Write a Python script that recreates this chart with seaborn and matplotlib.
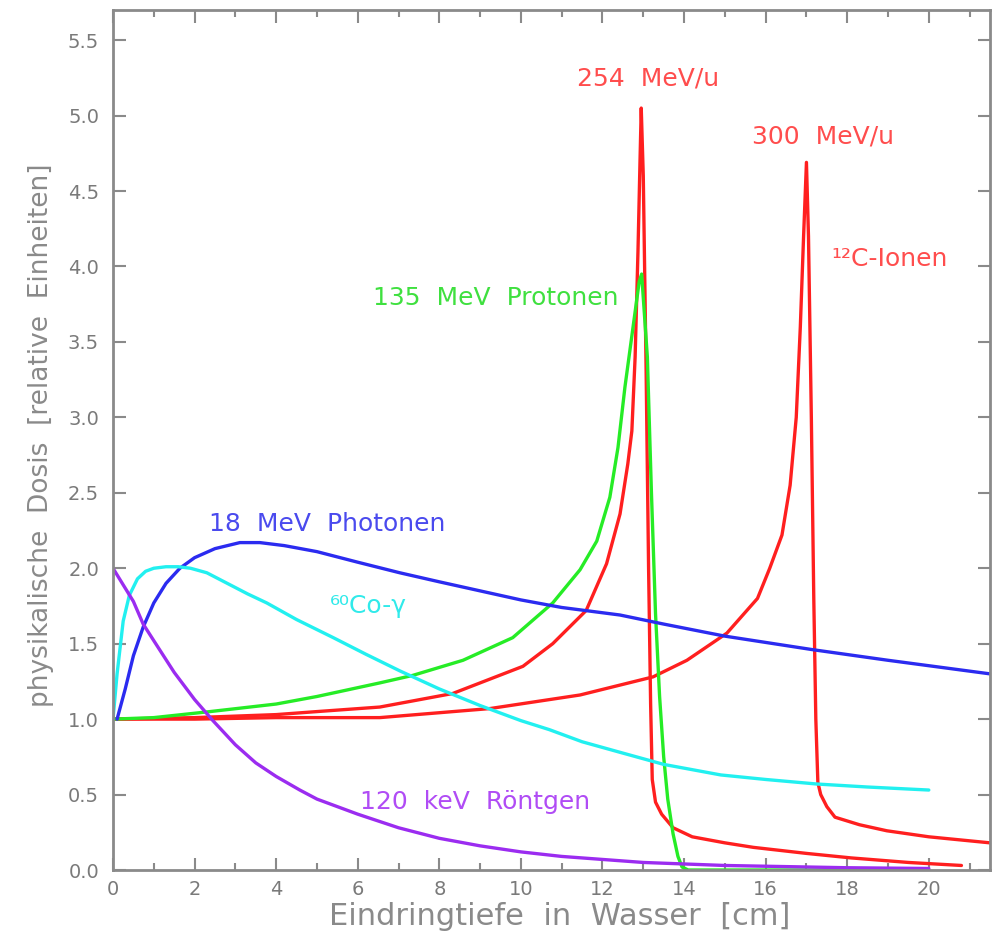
import numpy as np
import pandas as pd
import matplotlib
matplotlib.use("Agg")
import matplotlib.pyplot as plt
from matplotlib.ticker import MultipleLocator, FormatStrFormatter
import seaborn as sns

# ---------------- data ----------------
c254_x = [0, 2, 4, 5, 6.54, 8.33, 10.05, 10.78, 11.6, 12.1, 12.43, 12.62, 12.72, 12.8, 12.87, 12.92, 12.95,
          13.0, 13.07, 13.13, 13.18, 13.22, 13.3, 13.45, 13.73, 14.2, 15.0, 15.7, 17.0, 18.1, 19.5, 20.8]
c254_y = [1.0, 1.01, 1.03, 1.05, 1.08, 1.17, 1.35, 1.50, 1.72, 2.03, 2.36, 2.69, 2.91, 3.4, 4.1, 4.7, 5.05,
          4.6, 3.3, 2.0, 1.1, 0.6, 0.45, 0.37, 0.28, 0.22, 0.18, 0.15, 0.11, 0.08, 0.05, 0.03]

c300_x = [0, 2, 4, 6.54, 9.24, 11.45, 13.24, 14.07, 15.05, 15.8, 16.1, 16.4, 16.6, 16.75, 16.85, 16.93, 17.0,
          17.05, 17.12, 17.18, 17.23, 17.28, 17.35, 17.5, 17.7, 18.3, 18.97, 20.0, 21.5]
c300_y = [1.0, 1.0, 1.01, 1.01, 1.07, 1.16, 1.28, 1.39, 1.57, 1.8, 2.0, 2.22, 2.55, 3.0, 3.6, 4.2, 4.69,
          4.2, 3.0, 1.8, 1.0, 0.58, 0.5, 0.42, 0.35, 0.3, 0.26, 0.22, 0.18]

prot_x = [0, 1, 2.38, 4, 5, 6.54, 7.35, 8.58, 9.8, 10.78, 11.45, 11.86, 12.18, 12.38, 12.55, 12.67, 12.8, 12.9, 12.96,
          13.1, 13.2, 13.3, 13.4, 13.5, 13.6, 13.73, 13.85, 13.95, 14.1, 16.0, 18.0, 20.0]
prot_y = [1.0, 1.01, 1.05, 1.10, 1.15, 1.24, 1.29, 1.39, 1.54, 1.77, 1.99, 2.18, 2.47, 2.80, 3.2, 3.44, 3.7, 3.9, 3.95,
          3.4, 2.5, 1.7, 1.15, 0.75, 0.47, 0.24, 0.09, 0.02, 0.0, 0.0, 0.0, 0.0]

phot_x = [0.1, 0.3, 0.5, 0.74, 1.0, 1.3, 1.64, 2.0, 2.5, 3.11, 3.6, 4.2, 5.0, 6.0, 7.03, 8.0, 9.0, 10.0, 11.0,
          12.43, 13.5, 15.0, 17.16, 19.0, 21.5]
phot_y = [1.0, 1.2, 1.42, 1.61, 1.77, 1.9, 2.0, 2.07, 2.13, 2.17, 2.17, 2.15, 2.11, 2.04, 1.97, 1.91, 1.85, 1.79, 1.74,
          1.69, 1.63, 1.55, 1.46, 1.39, 1.30]

co60_x = [0, 0.1, 0.25, 0.4, 0.6, 0.8, 1.0, 1.3, 1.6, 1.9, 2.3, 2.8, 3.3, 3.77, 4.5, 5.4, 6.2, 7.03, 8.0, 9.0, 10.0,
          10.7, 11.5, 12.43, 13.5, 14.9, 16.0, 17.25, 18.5, 20.0]
co60_y = [1.0, 1.3, 1.65, 1.82, 1.93, 1.98, 2.0, 2.01, 2.01, 2.0, 1.97, 1.9, 1.83, 1.77, 1.66, 1.54, 1.43, 1.32, 1.2,
          1.09, 0.99, 0.93, 0.85, 0.78, 0.70, 0.63, 0.60, 0.57, 0.55, 0.53]

xray_x = [0, 0.5, 0.74, 1.0, 1.5, 2.0, 2.45, 3.0, 3.5, 4.0, 4.58, 5.0, 6.0, 7.0, 8.0, 9.0, 10.0, 11.0, 12.0, 13.0,
          14.0, 15.0, 16.0, 18.0, 20.0]
xray_y = [2.0, 1.78, 1.63, 1.52, 1.31, 1.13, 0.99, 0.83, 0.71, 0.62, 0.53, 0.47, 0.37, 0.28, 0.21, 0.16, 0.12, 0.09,
          0.07, 0.05, 0.04, 0.03, 0.025, 0.015, 0.01]

curve_names = ["C254", "C300", "Protonen", "Photonen", "Co60", "Roentgen"]
line_colors = {"C254": "#ff1f1f", "C300": "#ff1f1f", "Protonen": "#26ec26",
               "Photonen": "#2b2bf0", "Co60": "#22f0f0", "Roentgen": "#9b2cf0"}

x_ticks = [0, 2, 4, 6, 8, 10, 12, 14, 16, 18, 20]
y_ticks = [0.0, 0.5, 1.0, 1.5, 2.0, 2.5, 3.0, 3.5, 4.0, 4.5, 5.0, 5.5]

series = {"C254": (c254_x, c254_y), "C300": (c300_x, c300_y), "Protonen": (prot_x, prot_y),
          "Photonen": (phot_x, phot_y), "Co60": (co60_x, co60_y), "Roentgen": (xray_x, xray_y)}
df = pd.concat([pd.DataFrame({"Tiefe": sx, "Dosis": sy, "Kurve": name})
                for name, (sx, sy) in series.items()], ignore_index=True)

# ---------------- figure ----------------
sns.set_style("ticks")
plt.rcParams["font.family"] = ["DejaVu Sans"]

fig = plt.figure(figsize=(9.96, 9.36), dpi=100)
ax = fig.add_axes([113 / 996, 1 - 870 / 936, (990 - 113) / 996, (870 - 10) / 936])

sns.lineplot(data=df, x="Tiefe", y="Dosis", hue="Kurve", hue_order=curve_names,
             palette=line_colors, estimator=None, sort=False, legend=False,
             linewidth=2.4, ax=ax)

ax.set_xlim(0, 21.5)
ax.set_ylim(0, 5.7)
ax.set_xticks(x_ticks)
ax.set_yticks(y_ticks)
ax.xaxis.set_minor_locator(MultipleLocator(1))
ax.yaxis.set_major_formatter(FormatStrFormatter("%.1f"))

gray = "#8a8a8a"
for sp in ax.spines.values():
    sp.set_visible(True)
    sp.set_color(gray)
    sp.set_linewidth(2)
ax.tick_params(which="major", direction="in", top=True, right=True, length=9, width=1.5,
               color=gray, labelcolor="#7a7a7a", labelsize=14)
ax.tick_params(axis="y", which="major", pad=10)
ax.tick_params(axis="x", which="major", pad=7)
ax.tick_params(which="minor", direction="in", top=True, right=True, length=5, width=1.5, color=gray)

ax.set_xlabel("Eindringtiefe  in  Wasser  [cm]", fontsize=22, color=gray)
ax.set_ylabel("physikalische  Dosis  [relative  Einheiten]", fontsize=19, color=gray)
ax.xaxis.set_label_coords(0.509, -0.037)
ax.yaxis.set_label_coords(-0.067, 0.506)

fs = 18
ax.text(11.37, 5.245, "254  MeV/u", color="#ff4d4d", fontsize=fs, va="center", ha="left")
ax.text(15.66, 4.86, "300  MeV/u", color="#ff4d4d", fontsize=fs, va="center", ha="left")
ax.text(17.62, 4.05, "\u00b9\u00b2C-Ionen", color="#ff4d4d", fontsize=fs, va="center", ha="left")
ax.text(6.37, 3.79, "135  MeV  Protonen", color="#3fe03f", fontsize=fs, va="center", ha="left")
ax.text(2.35, 2.29, "18  MeV  Photonen", color="#4a4aee", fontsize=fs, va="center", ha="left")
ax.text(5.32, 1.75, "\u2076\u2070Co-\u03b3", color="#30eaea", fontsize=fs, va="center", ha="left")
ax.text(6.05, 0.45, "120  keV  R\u00f6ntgen", color="#b04cf5", fontsize=fs, va="center", ha="left")

fig.savefig("out.png", dpi=100, facecolor="white")
